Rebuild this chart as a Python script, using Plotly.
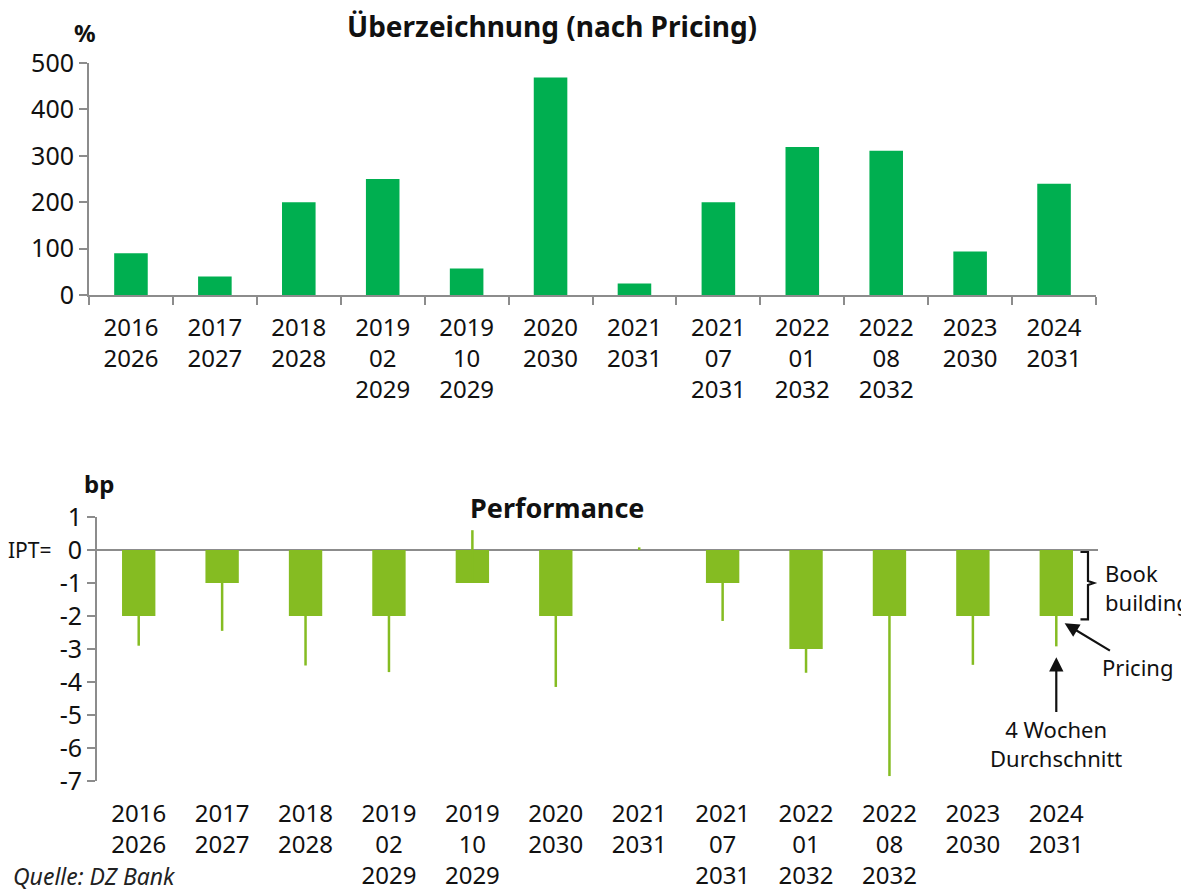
import plotly.graph_objects as go

categories = ["2016<br>2026", "2017<br>2027", "2018<br>2028", "2019<br>02<br>2029", "2019<br>10<br>2029",
              "2020<br>2030", "2021<br>2031", "2021<br>07<br>2031", "2022<br>01<br>2032", "2022<br>08<br>2032",
              "2023<br>2030", "2024<br>2031"]
oversubscription = [90, 40, 200, 250, 57, 469, 25, 200, 319, 311, 94, 240]
book_building = [-2, -1, -2, -2, -1, -2, 0, -1, -3, -2, -2, -2]
four_week_avg = [-2.9, -2.45, -3.5, -3.7, 0.6, -4.15, 0.08, -2.15, -3.72, -6.85, -3.48, -2.92]
top_ticks = [0, 100, 200, 300, 400, 500]
bottom_ticks = [1, 0, -1, -2, -3, -4, -5, -6, -7]
bottom_ticktext = ["1", "0", "-1", "-2", "-3", "-4", "-5", "-6", "-7"]

FONT = "Noto Sans"
TOP_GREEN = "#00AF50"
LIME = "#85BC22"
AXIS = "#8C8C8C"
INK = "#111111"
W, H = 1189, 890
OFF = 8  # page body margin

fig = go.Figure()
fig.add_trace(go.Bar(x=categories, y=oversubscription, marker=dict(color=TOP_GREEN, line=dict(width=0)),
                     width=0.4, xaxis="x", yaxis="y", showlegend=False))
fig.add_trace(go.Bar(x=categories, y=book_building, marker=dict(color=LIME, line=dict(width=0)),
                     width=0.4, xaxis="x2", yaxis="y2", showlegend=False))
wx, wy = [], []
for c, b, e in zip(categories, book_building, four_week_avg):
    wx += [c, c, None]
    wy += [b, e, None]
fig.add_trace(go.Scatter(x=wx, y=wy, mode="lines", line=dict(color=LIME, width=2.5),
                         xaxis="x2", yaxis="y2", showlegend=False, hoverinfo="skip"))


def px(x):
    return (x - OFF) / W


def py(y):
    return 1 - (y - OFF) / H


n = len(categories)
tickfont = dict(family=FONT, size=24, color=INK)
ytickfont = dict(family=FONT, size=25, color=INK)
fig.update_layout(
    width=W, height=H, margin=dict(l=0, r=0, t=0, b=0, autoexpand=False),
    plot_bgcolor="white", paper_bgcolor="white",
    font=dict(family=FONT, color=INK),
    xaxis=dict(domain=[px(89), px(1096)], type="category", range=[-0.5, n - 0.5], tickson="boundaries",
               ticks="outside", ticklen=8, tickcolor=AXIS, tickwidth=2, showline=True, linecolor=AXIS,
               linewidth=2, tickfont=tickfont, anchor="y", showgrid=False, automargin=False,
               ticklabelstandoff=10),
    yaxis=dict(domain=[py(295), py(63)], range=[0, 500], tickvals=top_ticks, ticks="outside",
               ticklen=8, tickcolor=AXIS, tickwidth=2, showline=True, linecolor=AXIS, linewidth=2,
               tickfont=ytickfont, showgrid=False, zeroline=False, anchor="x", automargin=False),
    xaxis2=dict(domain=[px(97), px(1098)], type="category", range=[-0.5, n - 0.5], ticks="",
                showline=False, tickfont=tickfont, anchor="y2", showgrid=False, ticklabelstandoff=16,
                automargin=False),
    yaxis2=dict(domain=[py(781), py(517)], range=[-7, 1], tickvals=bottom_ticks, ticktext=bottom_ticktext,
                ticks="outside", ticklen=8, tickcolor=AXIS, tickwidth=2, showline=True, linecolor=AXIS,
                linewidth=2, tickfont=ytickfont, showgrid=False, automargin=False,
                zeroline=True, zerolinecolor=AXIS, zerolinewidth=2, anchor="x2"),
    bargap=0.6,
)

afont = dict(size=22, family=FONT, color=INK)
ann = [
    dict(text="<b>Überzeichnung (nach Pricing)</b>", x=px(552), y=py(26), xref="paper", yref="paper",
         showarrow=False, xanchor="center", yanchor="middle", font=dict(size=28, family=FONT, color=INK)),
    dict(text="<b>%</b>", x=px(85), y=py(32), xref="paper", yref="paper", showarrow=False,
         xanchor="center", yanchor="middle", font=dict(size=24, family=FONT, color=INK)),
    dict(text="<b>bp</b>", x=px(99), y=py(483), xref="paper", yref="paper", showarrow=False,
         xanchor="center", yanchor="middle", font=dict(size=24, family=FONT, color=INK)),
    dict(text="<b>Performance</b>", x=px(557), y=py(507), xref="paper", yref="paper", showarrow=False,
         xanchor="center", yanchor="middle", font=dict(size=27, family=FONT, color=INK)),
    dict(text="IPT=", x=px(6), y=0, xref="paper", yref="y2", xanchor="left", yanchor="middle",
         showarrow=False, font=dict(size=21, family=FONT, color=INK)),
    dict(text="<i>Quelle: DZ Bank</i>", x=px(11), y=py(876), xref="paper", yref="paper", xanchor="left",
         yanchor="middle", showarrow=False, font=dict(size=23, family=FONT, color="#222")),
    dict(text="Book<br>building", x=px(1103), y=-1.15, xref="paper", yref="y2",
         xanchor="left", yanchor="middle", align="left", showarrow=False, font=afont),
    dict(text="Pricing", x=11.1, y=book_building[-1] - 0.22, xref="x2", yref="y2", showarrow=True,
         ax=11.97, ay=-3.55, axref="x2", ayref="y2",
         arrowhead=2, arrowsize=1.3, arrowwidth=2.2, arrowcolor=INK, standoff=0,
         font=afont),
    dict(text="4 Wochen<br>Durchschnitt", x=11.0, y=-3.25, xref="x2", yref="y2", showarrow=True,
         ax=11.0, ay=-5.85, axref="x2", ayref="y2",
         arrowhead=2, arrowsize=1.3, arrowwidth=2.2, arrowcolor=INK, standoff=0,
         font=afont),
]
fig.update_layout(annotations=ann)

# brace marking the book building span of the last issue
y0, y1 = 0, book_building[-1]
ym = (y0 + y1) / 2
xb = 11.29
fig.add_shape(type="path", xref="x2", yref="y2",
              path=f"M {xb} {y0 - 0.06} L {xb + 0.09} {y0 - 0.06} L {xb + 0.09} {ym + 0.06} L {xb + 0.16} {ym} "
                   f"L {xb + 0.09} {ym - 0.06} L {xb + 0.09} {y1 - 0.1} L {xb} {y1 - 0.1}",
              line=dict(color=INK, width=2.2))

fig.write_html("out.html")
